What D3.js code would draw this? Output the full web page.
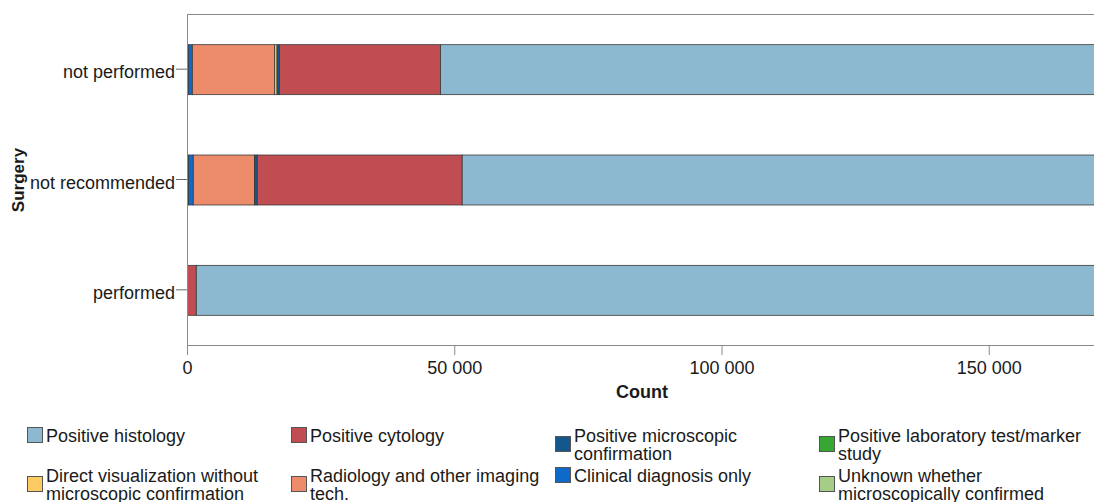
<!DOCTYPE html>
<html>
<head>
<meta charset="utf-8">
<script src="https://cdn.jsdelivr.net/npm/d3@7"></script>
<style>
  body { margin: 0; background: #fff; overflow: hidden; }
  text { font-family: "Liberation Sans", Arial, sans-serif; fill: #1a1a1a; }
</style>
</head>
<body>
<div id="chart-area"></div>
<script>
// categories, top first as in the picture
var categories = ["not performed", "not recommended", "performed"];

// stack order, left to right
var seriesNames = [
  "Unknown whether microscopically confirmed",
  "Clinical diagnosis only",
  "Radiology and other imaging tech.",
  "Direct visualization without microscopic confirmation",
  "Positive microscopic confirmation",
  "Positive laboratory test/marker study",
  "Positive cytology",
  "Positive histology"
];
var unknownVals     = [250, 300, 0];
var clinicalVals    = [750, 880, 0];
var radiologyVals   = [15400, 11470, 0];
var directVals      = [450, 0, 0];
var microscopicVals = [430, 500, 0];
var labVals         = [0, 0, 0];
var cytologyVals    = [30170, 38340, 1740];
var histologyVals   = [210000, 230000, 420000];

var seriesColors = ["#a6cd86", "#0f69c9", "#ec8c6b", "#fdca63", "#13578c", "#36a732", "#c04d52", "#8db9d0"];

// legend order (row major)
var legendOrder = [
  "Positive histology", "Positive cytology", "Positive microscopic confirmation", "Positive laboratory test/marker study",
  "Direct visualization without microscopic confirmation", "Radiology and other imaging tech.", "Clinical diagnosis only", "Unknown whether microscopically confirmed"
];
var legendLines = {
  "Positive histology": ["Positive histology"],
  "Positive cytology": ["Positive cytology"],
  "Positive microscopic confirmation": ["Positive microscopic", "confirmation"],
  "Positive laboratory test/marker study": ["Positive laboratory test/marker", "study"],
  "Direct visualization without microscopic confirmation": ["Direct visualization without", "microscopic confirmation"],
  "Radiology and other imaging tech.": ["Radiology and other imaging", "tech."],
  "Clinical diagnosis only": ["Clinical diagnosis only"],
  "Unknown whether microscopically confirmed": ["Unknown whether", "microscopically confirmed"]
};

var xTicks = [0, 50000, 100000, 150000];

var allVals = [unknownVals, clinicalVals, radiologyVals, directVals, microscopicVals, labVals, cytologyVals, histologyVals];
var data = categories.map((c, i) => {
  var row = { cat: c };
  seriesNames.forEach((s, j) => { row[s] = allVals[j][i]; });
  return row;
});

var width = 1094, height = 502;
var plot = { left: 187, right: 1101, top: 14, bottom: 345 };

var svg = d3.select("#chart-area")
  .append("svg")
  .attr("width", width)
  .attr("height", height);

var x = d3.scaleLinear()
  .domain([0, 171000])
  .range([plot.left, plot.right]);

var y = d3.scaleBand()
  .domain(categories)
  .range([plot.top, plot.bottom])
  .paddingInner(0.547)
  .paddingOuter(0.2735);

var color = d3.scaleOrdinal()
  .domain(seriesNames)
  .range(seriesColors);

var stacked = d3.stack().keys(seriesNames)(data);

svg.append("clipPath").attr("id", "plot-clip")
  .append("rect")
  .attr("x", plot.left).attr("y", plot.top)
  .attr("width", plot.right - plot.left).attr("height", plot.bottom - plot.top);

// top frame line
svg.append("line")
  .attr("x1", plot.left).attr("x2", plot.right)
  .attr("y1", plot.top + 0.5).attr("y2", plot.top + 0.5)
  .attr("stroke", "#8a8a8a");

var g = svg.append("g").attr("clip-path", "url(#plot-clip)");

g.selectAll("g.layer")
  .data(stacked).enter()
  .append("g")
  .attr("class", "layer")
  .attr("fill", d => color(d.key))
  .selectAll("rect")
  .data(d => d.filter(p => p[1] > p[0])).enter()
  .append("rect")
  .attr("x", d => x(d[0]))
  .attr("y", d => y(d.data.cat) + 0.5)
  .attr("width", d => x(d[1]) - x(d[0]))
  .attr("height", y.bandwidth())
  .attr("stroke", "#3a3a3a")
  .attr("stroke-width", 0.8);

var bottomAxis = d3.axisBottom(x)
  .tickValues(xTicks)
  .tickSize(10)
  .tickPadding(6)
  .tickFormat(d => d3.format(",")(d).replace(/,/g, " "));
var xg = svg.append("g")
  .attr("class", "x axis")
  .attr("transform", "translate(0, " + plot.bottom + ")")
  .call(bottomAxis);
xg.select(".domain").attr("stroke", "#8a8a8a");
xg.selectAll(".tick line").attr("stroke", "#8a8a8a");
xg.selectAll("text").attr("font-size", "18px").attr("fill", "#111");

var leftAxis = d3.axisLeft(y).tickSize(11).tickPadding(1);
var yg = svg.append("g")
  .attr("class", "y axis")
  .attr("transform", "translate(" + plot.left + ", 0)")
  .call(leftAxis);
yg.select(".domain").attr("d", "M0.5," + plot.top + "V" + plot.bottom).attr("stroke", "#8a8a8a");
yg.selectAll(".tick line").attr("stroke", "#6a6a6a");
yg.selectAll("text").attr("font-size", "18px").attr("fill", "#111").attr("dy", "0.5em");

svg.append("text")
  .attr("x", 642)
  .attr("y", 398)
  .attr("text-anchor", "middle")
  .attr("font-size", "18px")
  .attr("font-weight", "bold")
  .attr("fill", "#111")
  .text("Count");

svg.append("text")
  .attr("transform", "translate(24, 180) rotate(-90)")
  .attr("text-anchor", "middle")
  .attr("font-size", "17px")
  .attr("font-weight", "bold")
  .attr("fill", "#111")
  .text("Surgery");

// legend
var colX = [27, 291, 555, 819];
var rowBase = [442, 482];
var lineH = 18;
var legend = svg.append("g").attr("class", "legend");
legendOrder.forEach((name, i) => {
  var cx = colX[i % 4];
  var by = rowBase[Math.floor(i / 4)];
  var lines = legendLines[name];
  var item = legend.append("g");
  var capTop = by - 13;
  var lastBase = by + (lines.length - 1) * lineH;
  var blockMid = (capTop + lastBase) / 2 - 1;
  item.append("rect")
    .attr("x", cx + 0.5)
    .attr("y", Math.round(blockMid - 7.5) + 0.5)
    .attr("width", 15)
    .attr("height", 15)
    .attr("fill", color(name))
    .attr("stroke", "#555");
  lines.forEach((ln, k) => {
    item.append("text")
      .attr("x", cx + 19)
      .attr("y", by + k * lineH)
      .attr("font-size", "18px")
      .attr("fill", "#111")
      .text(ln);
  });
});
</script>
</body>
</html>
